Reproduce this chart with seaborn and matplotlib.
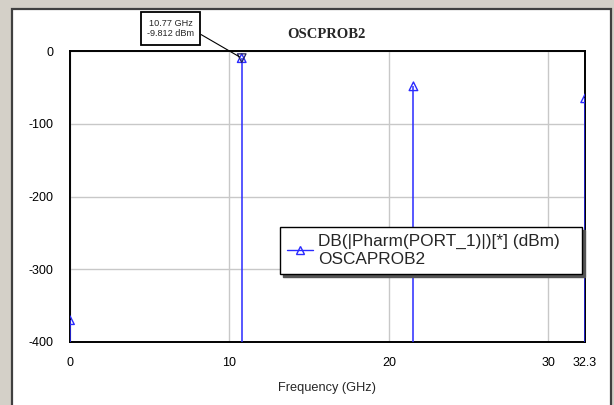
import matplotlib
matplotlib.use("Agg")
import matplotlib.pyplot as plt
from matplotlib.lines import Line2D
from matplotlib.patches import Rectangle
import seaborn as sns
import pandas as pd

# Harmonic balance spectrum at PORT_1
freq_ghz = [0.0, 10.77, 21.54, 32.31]
power_dbm = [-370.0, -9.812, -48.5, -65.0]

x_ticks = [0, 10, 20, 30, 32.3]
x_tick_labels = ["0", "10", "20", "30", "32.3"]
y_ticks = [0, -100, -200, -300, -400]

trace_label = "DB(|Pharm(PORT_1)|)[*] (dBm)\nOSCAPROB2"
title_text = "OSCPROB2"
marker_text = "10.77 GHz\n-9.812 dBm"
marker_freq = 10.77
marker_power = -9.812

df = pd.DataFrame({"freq": freq_ghz, "power": power_dbm})

sns.set_style("white")
plt.rcParams["font.family"] = ["Liberation Sans", "DejaVu Sans"]
plt.rcParams["axes.unicode_minus"] = False

W, H = 614, 405
fig = plt.figure(figsize=(W / 100, H / 100), dpi=100)
fig.patch.set_facecolor("#d4d0c8")

# window frame
frame = Rectangle((12 / W, -0.05), (611 - 12) / W, (H - 9) / H + 0.05,
                  transform=fig.transFigure, facecolor="white",
                  edgecolor="#404040", linewidth=1.6, zorder=-5)
fig.patches.append(frame)

ax = fig.add_axes([70 / W, (H - 342) / H, (585 - 70) / W, (342 - 51) / H])
ax.set_zorder(5)
ax.set_facecolor("white")

blue = "#2a2aff"
ax.vlines(df["freq"], -400, df["power"], color=blue, linewidth=1.1, zorder=3)
sns.scatterplot(data=df, x="freq", y="power", ax=ax, marker="^", s=38,
                facecolors="none", edgecolor=blue, linewidth=1.0, zorder=4,
                legend=False)
# marker symbol overlay at the fundamental
sns.scatterplot(x=[marker_freq], y=[marker_power], ax=ax, marker="v", s=38,
                facecolors="none", edgecolor="#202060", linewidth=0.9, zorder=5,
                legend=False)

ax.set_xlim(0, 32.3)
ax.set_ylim(-400, 0)
ax.set_xticks(x_ticks)
ax.set_xticklabels(x_tick_labels)
ax.set_yticks(y_ticks)
ax.tick_params(axis="both", length=0, labelsize=9, colors="black")
ax.tick_params(axis="x", pad=11)
ax.tick_params(axis="y", pad=12)

ax.grid(True, color="#c8c8c8", linewidth=1.0)
ax.set_axisbelow(True)
for sp in ax.spines.values():
    sp.set_color("black")
    sp.set_linewidth(1.4)
    sp.set_visible(True)

ax.set_xlabel("Frequency (GHz)", fontsize=9.2, labelpad=9)
ax.set_ylabel("")

fig.text(326 / W, 1 - 35 / H, title_text, ha="center", va="center",
         fontsize=10.5, fontweight="bold", family=["Liberation Serif", "DejaVu Serif"])

# marker readout box
ax.annotate(marker_text, xy=(marker_freq, marker_power), xycoords="data",
            xytext=(170.5 / W, 1 - 28.5 / H), textcoords="figure fraction",
            ha="center", va="center", fontsize=6.6, linespacing=1.25,
            bbox=dict(boxstyle="square,pad=0.7", facecolor="white",
                      edgecolor="black", linewidth=1.3),
            arrowprops=dict(arrowstyle="-", color="black", linewidth=0.8,
                            shrinkA=0, shrinkB=2, relpos=(1.0, 0.4)),
            annotation_clip=False, zorder=6)

handle = Line2D([], [], color=blue, marker="^", markerfacecolor="none",
                markeredgecolor=blue, markersize=6, linewidth=1.0)
leg = ax.legend([handle], [trace_label], loc="upper left", mode="expand",
                bbox_to_anchor=((280 - 70) / 515, (342 - 227) / 291,
                                302 / 515, 0.0),
                fontsize=12.4, frameon=True, fancybox=False,
                shadow=dict(color="#555555", alpha=1.0),
                framealpha=1, edgecolor="black", handlelength=1.5,
                handletextpad=0.3, borderpad=0.42, borderaxespad=0)
leg.get_frame().set_linewidth(1.0)
leg.set_zorder(7)

fig.savefig("out.png", dpi=100, facecolor=fig.get_facecolor())
